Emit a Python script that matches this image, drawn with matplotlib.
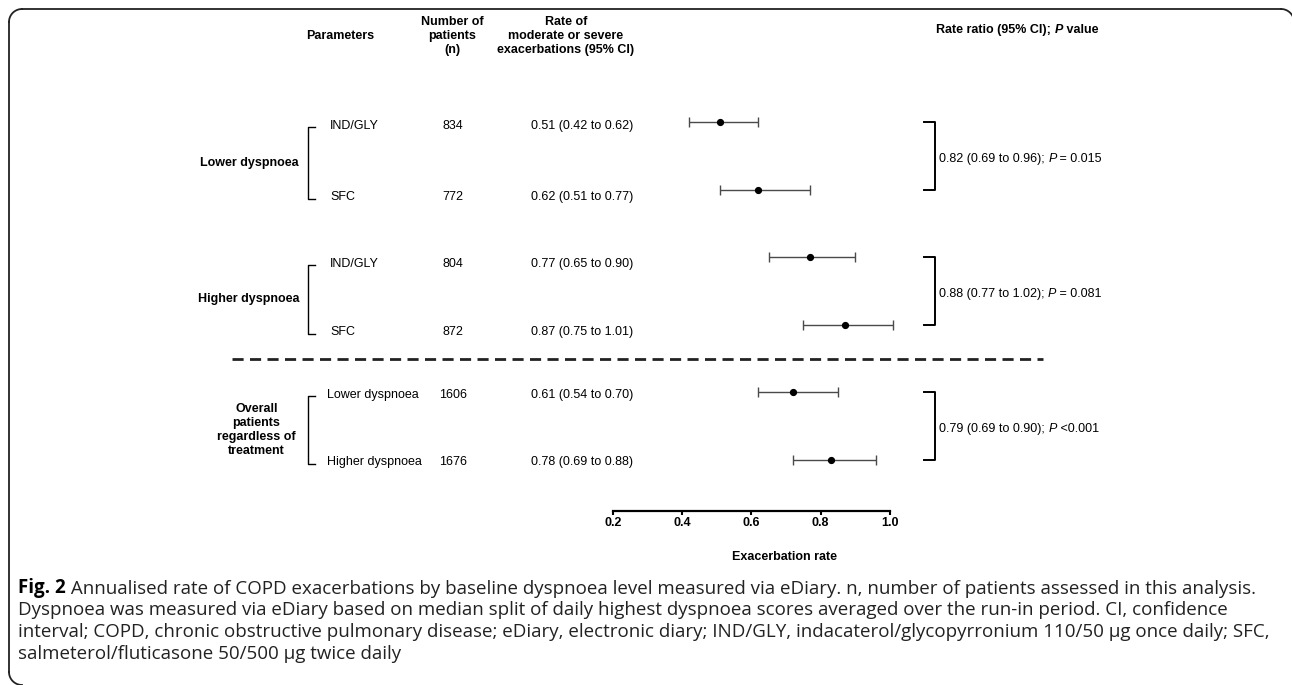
import numpy as np
import matplotlib
matplotlib.use('Agg')
import matplotlib.pyplot as plt

W, H = 1292, 685
FONT = ['Liberation Sans Narrow', 'Liberation Sans', 'DejaVu Sans']
CAP_FONT = ['Open Sans', 'DejaVu Sans']
plt.rcParams['font.family'] = FONT

# one row per plotted estimate, top to bottom
treatments = ['IND/GLY', 'SFC', 'IND/GLY', 'SFC', 'Lower dyspnoea', 'Higher dyspnoea']
n_patients = [834, 772, 804, 872, 1606, 1676]
rate_labels = ['0.51 (0.42 to 0.62)', '0.62 (0.51 to 0.77)', '0.77 (0.65 to 0.90)',
               '0.87 (0.75 to 1.01)', '0.61 (0.54 to 0.70)', '0.78 (0.69 to 0.88)']
# estimates and CI as they are drawn in the plot
rate_est = np.array([0.51, 0.62, 0.77, 0.87, 0.72, 0.83])
ci_low = np.array([0.42, 0.51, 0.65, 0.75, 0.62, 0.72])
ci_high = np.array([0.62, 0.77, 0.90, 1.01, 0.85, 0.96])

groups = ['Lower dyspnoea', 'Higher dyspnoea', 'Overall\npatients\nregardless of\ntreatment']
group_rows = [(0, 1), (2, 3), (4, 5)]
ratio_ci = ['0.82 (0.69 to 0.96); ', '0.88 (0.77 to 1.02); ', '0.79 (0.69 to 0.90); ']
ratio_p = [' = 0.015', ' = 0.081', ' <0.001']

x_ticks = [0.2, 0.4, 0.6, 0.8, 1.0]

caption = [
    ('Fig. 2', ' Annualised rate of COPD exacerbations by baseline dyspnoea level measured via eDiary. '
               'n, number of patients assessed in this analysis.'),
    ('', 'Dyspnoea was measured via eDiary based on median split of daily highest dyspnoea scores '
         'averaged over the run-in period. CI, confidence'),
    ('', 'interval; COPD, chronic obstructive pulmonary disease; eDiary, electronic diary; IND/GLY, '
         'indacaterol/glycopyrronium 110/50 \u03bcg once daily; SFC,'),
    ('', 'salmeterol/fluticasone 50/500 \u03bcg twice daily'),
]

# layout (pixels from top-left)
row_y0, row_step = 122, 67.6
text_px = [126, 196.5, 264, 331.5, 395, 462]
axis_y = 510.7
x_left, x_right = 612.7, 890

fig = plt.figure(figsize=(W / 100, H / 100), dpi=100)
bg = fig.add_axes([0, 0, 1, 1])
bg.set_xlim(0, W)
bg.set_ylim(H, 0)
bg.axis('off')

# frame: rounded top-left / top-right / bottom-left corners
r = 13
arc = np.linspace(0, np.pi / 2, 20)
frame = dict(color='#222222', lw=1.3)
bg.plot(22 - r * np.cos(arc), 672 + r * np.sin(arc), **frame)
bg.plot([9, 9], [672, 22], **frame)
bg.plot(22 - r * np.cos(arc), 22 - r * np.sin(arc), **frame)
bg.plot([22, 1281], [9, 9], **frame)
bg.plot(1281 + r * np.sin(arc), 22 - r * np.cos(arc), **frame)

fs = 9
row_px = row_y0 + row_step * np.arange(len(treatments))

# header
hdr = dict(fontsize=fs, fontweight='bold', ha='center', va='center', linespacing=1.25)
bg.text(340, 36, 'Parameters', **hdr)
bg.text(452, 36, 'Number of\npatients\n(n)', **hdr)
bg.text(566, 36, 'Rate of\nmoderate or severe\nexacerbations (95% CI)', **hdr)
t = bg.text(936, 30, 'Rate ratio (95% CI); ', fontsize=fs, fontweight='bold', va='center')
t = bg.annotate('P', xy=(1, 0), xycoords=t, va='bottom', fontsize=fs, fontweight='bold', style='italic')
bg.annotate(' value', xy=(1, 0), xycoords=t, va='bottom', fontsize=fs, fontweight='bold')

# table columns
for i in range(len(treatments)):
    bg.text(330 if i < 4 else 327, text_px[i], treatments[i], fontsize=fs, va='center')
    bg.text(453, text_px[i], str(n_patients[i]), fontsize=fs, va='center', ha='center')
    bg.text(531, text_px[i], rate_labels[i], fontsize=fs, va='center')

# groups: left brackets and labels, right brackets with rate ratios
for g, (i0, i1) in enumerate(group_rows):
    ya, yb = text_px[i0] + 1, text_px[i1] + 2
    bg.plot([315, 308, 308, 315], [ya, ya, yb, yb], color='black', lw=1.0)
    if g < 2:
        bg.text(299, (ya + yb) / 2, groups[g], fontsize=fs, fontweight='bold', ha='right', va='center')
    else:
        bg.text(256.5, (ya + yb) / 2, groups[g], fontsize=fs, fontweight='bold', ha='center',
                va='center', linespacing=1.25)
    pa, pb = row_px[i0], row_px[i1]
    bg.plot([924, 935, 935, 924], [pa, pa, pb, pb], color='black', lw=1.4)
    t = bg.text(939, (pa + pb) / 2 + 3, ratio_ci[g], fontsize=fs, va='center')
    t = bg.annotate('P', xy=(1, 0), xycoords=t, va='bottom', fontsize=fs, style='italic')
    bg.annotate(ratio_p[g], xy=(1, 0), xycoords=t, va='bottom', fontsize=fs)

# dashed separator
bg.plot([232, 1043], [row_y0 + row_step * 3.5] * 2, color='#222222', lw=2.0, ls=(0, (4, 2.3)))

# forest plot
top_px = 95
ax = fig.add_axes([x_left / W, 1 - axis_y / H, (x_right - x_left) / W, (axis_y - top_px) / H])
ax.patch.set_alpha(0)
ax.set_xlim(0.2, 1.0)
ax.set_ylim((axis_y - row_y0) / row_step, (top_px - row_y0) / row_step)
rows = np.arange(len(rate_est))
eb = ax.errorbar(rate_est, rows, xerr=[rate_est - ci_low, ci_high - rate_est], fmt='o',
                 color='black', ms=4.2, ecolor='#4a4a4a', elinewidth=1.0, capsize=3.5, capthick=1.0)
for art in eb.lines[1] + eb.lines[2]:
    art.set_clip_on(False)
eb.lines[0].set_clip_on(False)
for s in ['top', 'left', 'right']:
    ax.spines[s].set_visible(False)
ax.spines['bottom'].set_linewidth(1.6)
ax.set_yticks([])
ax.set_xticks(x_ticks)
ax.set_xticklabels(['%.1f' % v for v in x_ticks], fontweight='bold', fontsize=fs)
ax.tick_params(axis='x', length=3, width=1.5, pad=1.5)

bg.text(785, 557, 'Exacerbation rate', fontsize=fs, fontweight='bold', ha='center', va='center')

# caption, sized so the first line runs to the same width as in the reference
cap_fs = 12.0
renderer = fig.canvas.get_renderer()
probe = bg.text(0, 0, caption[0][0] + caption[0][1], fontsize=cap_fs, family=CAP_FONT)
w = probe.get_window_extent(renderer).width
probe.remove()
cap_fs *= 1230.0 / w
for k, (bold, rest) in enumerate(caption):
    y = 588 + 22 * k
    if bold:
        t = bg.text(18, y, bold, fontsize=cap_fs, fontweight='bold', family=CAP_FONT, va='center')
        bg.annotate(rest, xy=(1, 0), xycoords=t, va='bottom', fontsize=cap_fs, family=CAP_FONT,
                    color='#222222')
    else:
        bg.text(18, y, rest, fontsize=cap_fs, family=CAP_FONT, va='center', color='#222222')

fig.savefig('out.png', dpi=100)
